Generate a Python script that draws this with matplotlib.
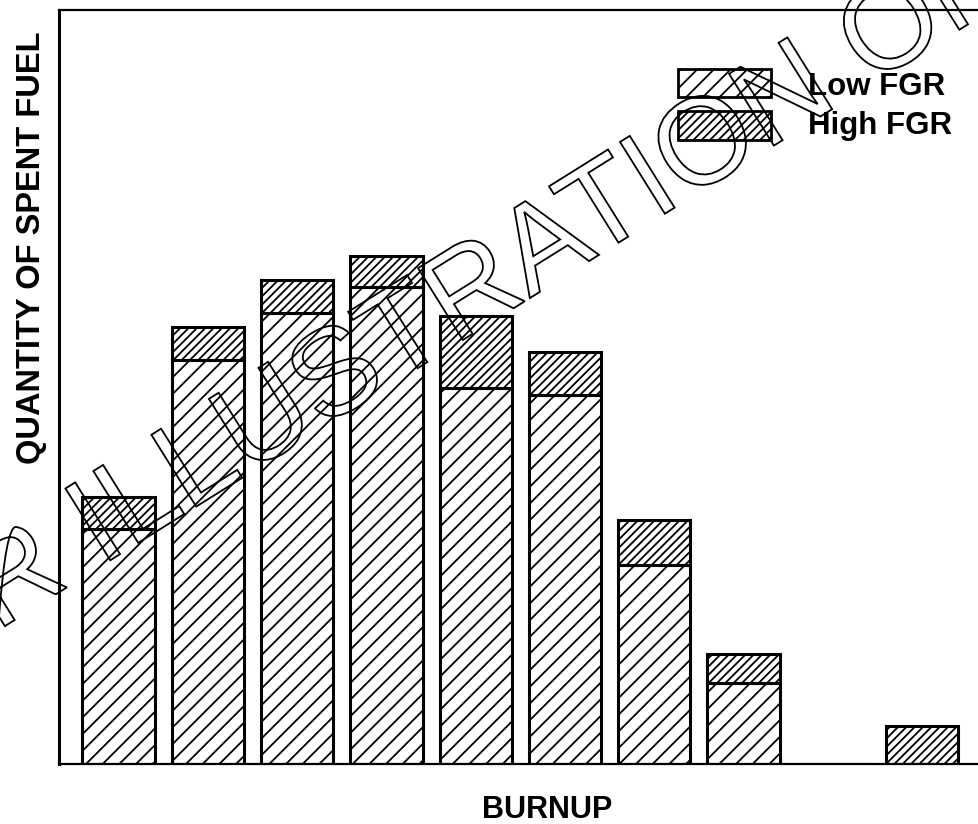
import matplotlib
matplotlib.use('Agg')
import matplotlib.pyplot as plt
import numpy as np
from matplotlib.patches import Rectangle, PathPatch
from matplotlib.textpath import TextPath
from matplotlib.font_manager import FontProperties
from matplotlib.transforms import Affine2D

# ---- data (arbitrary quantity units) ----
categories = list(range(10))          # burnup bins (no tick labels in original)
low_fgr = [235, 404, 451, 477, 376, 369, 199, 81, 0, 0]
high_fgr = [32, 33, 33, 31, 72, 43, 45, 29, 0, 38]
series_labels = ["Low FGR", "High FGR"]
xlabel = "BURNUP"
ylabel = "QUANTITY OF SPENT FUEL"
watermark = "FOR ILLUSTRATION ONLY"

W, H = 979, 824
plt.rcParams['hatch.linewidth'] = 1.3
plt.rcParams['font.family'] = ['Liberation Sans', 'DejaVu Sans']

fig = plt.figure(figsize=(W / 100, H / 100), dpi=100)
ax = fig.add_axes([59 / W, (H - 764) / H, (W - 59) / W, (764 - 10) / H])

x = np.arange(len(categories))
ax.bar(x, low_fgr, width=0.81, color='white', edgecolor='black',
       linewidth=2.2, hatch='//', zorder=2)
ax.bar(x, high_fgr, bottom=low_fgr, width=0.81, color='white',
       edgecolor='black', linewidth=2.2, hatch='////', zorder=2)

ax.set_xlim(-0.666, 9.636)
ax.set_ylim(0, 754)
ax.set_xticks([])
ax.set_yticks([])
ax.spines['right'].set_visible(False)
ax.spines['left'].set_linewidth(2.2)
ax.spines['bottom'].set_linewidth(1.6)
ax.spines['top'].set_linewidth(1.6)

# axis labels
fig.text(40 / W, 1 - 248 / H, ylabel, rotation=90, rotation_mode='anchor',
         ha='center', va='baseline', fontsize=23.5, fontweight='bold')
fig.text(547 / W, 1 - 818 / H, xlabel, ha='center', va='baseline',
         fontsize=22, fontweight='bold')

# legend (manual, to match placement)
def px_rect(x0, y0, x1, y1, hatch):
    r = Rectangle((x0 / W, 1 - y1 / H), (x1 - x0) / W, (y1 - y0) / H,
                  transform=fig.transFigure, facecolor='white',
                  edgecolor='black', lw=2, hatch=hatch, zorder=5)
    fig.add_artist(r)

px_rect(678, 69, 771, 97, '//')
px_rect(678, 111, 771, 140, '////')
fig.text(808 / W, 1 - 95 / H, series_labels[0], ha='left', va='baseline',
         fontsize=22.5, fontweight='bold')
fig.text(808 / W, 1 - 134 / H, series_labels[1], ha='left', va='baseline',
         fontsize=22.5, fontweight='bold')

# outlined diagonal watermark
fp = FontProperties(family='Liberation Sans')
S = 123
tp = TextPath((0, 0), watermark, size=S, prop=fp)
a = TextPath((0, 0), "FOR ILLU", size=S, prop=fp).get_extents().x1
b = TextPath((0, 0), "FOR ILLUS", size=S, prop=fp).get_extents().x1
cx = (a + b) / 2 + 0.02 * S
cy = 0.36 * S
tr = (Affine2D().translate(-cx, -cy).rotate_deg(32)
      .translate(328, H - 372).scale(1 / W, 1 / H) + fig.transFigure)
fig.add_artist(PathPatch(tp, transform=tr, facecolor='none',
                         edgecolor='black', lw=1.3, zorder=10))

fig.savefig('out.png', dpi=100)
